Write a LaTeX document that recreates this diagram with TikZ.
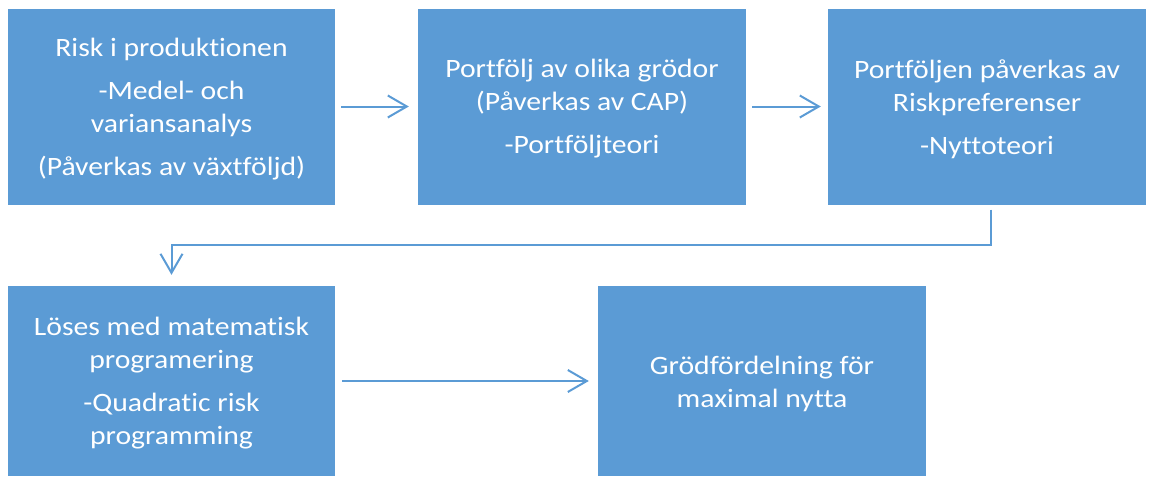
\documentclass[tikz,border=0pt]{standalone}
\usepackage{fontspec}
\setmainfont{Carlito}[Ligatures={NoCommon}, FakeStretch=1.12]
\usetikzlibrary{arrows.meta}
\definecolor{boxblue}{HTML}{5B9BD5}
\tikzset{
  box/.style={fill=boxblue, draw=none, inner sep=0pt},
  txt/.style={text=white, align=center, inner sep=0pt,
    font=\fontsize{26.5}{33}\selectfont},
  arr/.style={draw=boxblue, line width=2pt, -{Straight Barb[length=19pt,width=22pt,line width=2pt]}}
}
\begin{document}
\begin{tikzpicture}[x=1pt,y=-1pt]
\useasboundingbox (0,0) rectangle (1149,477);
\node[box, minimum width=327pt, minimum height=196pt] (b1) at (171.5,106.5) {};
\node[box, minimum width=328pt, minimum height=196pt] (b2) at (582,106.5) {};
\node[box, minimum width=318pt, minimum height=196pt] (b3) at (987,106.5) {};
\node[box, minimum width=327pt, minimum height=190pt] (b4) at (171.5,381) {};
\node[box, minimum width=328pt, minimum height=190pt] (b5) at (762,381) {};
\node[txt] (t1) at ([yshift=-2.5pt]b1.center)
  {Risk i produktionen\\[10pt]-Medel- och\\variansanalys\\[10pt](Påverkas av växtföljd)};
\node[txt] (t2) at ([yshift=-2.5pt]b2.center)
  {Portfölj av olika grödor\\(Påverkas av CAP)\\[10pt]-Portföljteori};
\node[txt] (t3) at ([yshift=-2.5pt]b3.center)
  {Portföljen påverkas av\\Riskpreferenser\\[10pt]-Nyttoteori};
\node[txt] (t4) at ([yshift=-2.5pt]b4.center)
  {Löses med matematisk\\programering\\[10pt]-Quadratic risk\\programming};
\node[txt] (t5) at ([yshift=-3pt]b5.center)
  {Grödfördelning för\\maximal nytta};
\draw[arr, shorten <=6pt, shorten >=9pt] (b1.east) -- (b2.west);
\draw[arr, shorten <=6pt, shorten >=7pt] (b2.east) -- (b3.west);
\draw[arr, shorten <=7pt, shorten >=9pt] (b4.east) -- (b5.west);
\coordinate (c1) at ([xshift=4pt,yshift=-5pt]b3.south);
\draw[arr, shorten >=11pt] (c1) -- ++(0,35) -| (b4.north);
\end{tikzpicture}
\end{document}
